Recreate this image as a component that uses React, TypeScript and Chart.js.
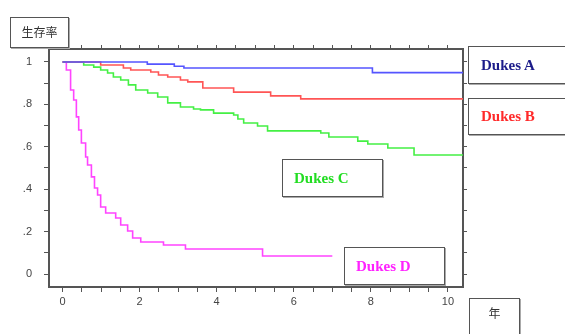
import React, { useEffect, useRef } from "react";
import { Chart, registerables } from "chart.js";

Chart.register(...registerables);

// Kaplan–Meier style survival curves (years vs survival rate)
const dukesATimes = [0, 2.2, 2.9, 3.15, 8.04, 10.39];
const dukesAValues = [1, 0.99, 0.98, 0.972, 0.95, 0.95];

const dukesBTimes = [0, 0.99, 1.58, 1.77, 2.29, 2.49, 2.73, 3.06, 3.25, 3.64, 4.44, 5.4, 6.18, 10.39];
const dukesBValues = [1, 0.986, 0.972, 0.962, 0.953, 0.939, 0.929, 0.915, 0.906, 0.877, 0.858, 0.84, 0.826, 0.826];

const dukesCTimes = [0, 0.55, 0.81, 0.99, 1.17, 1.32, 1.51, 1.71, 1.9, 2.21, 2.47, 2.73, 3.06, 3.4, 3.58, 3.92, 4.44, 4.55, 4.7, 5.06, 5.32, 6.7, 6.91, 7.66, 7.92, 8.44, 9.12, 10.39];
const dukesCValues = [1, 0.986, 0.976, 0.962, 0.948, 0.929, 0.915, 0.892, 0.868, 0.854, 0.835, 0.807, 0.788, 0.778, 0.774, 0.759, 0.75, 0.731, 0.712, 0.698, 0.675, 0.665, 0.646, 0.627, 0.613, 0.594, 0.561, 0.561];

const dukesDTimes = [0, 0.1, 0.21, 0.29, 0.36, 0.42, 0.49, 0.6, 0.65, 0.75, 0.83, 0.91, 0.99, 1.12, 1.38, 1.51, 1.69, 1.82, 2.03, 2.62, 3.19, 5.19, 7.0];
const dukesDValues = [1, 0.962, 0.868, 0.821, 0.741, 0.679, 0.618, 0.552, 0.514, 0.458, 0.406, 0.373, 0.316, 0.288, 0.264, 0.231, 0.203, 0.17, 0.151, 0.137, 0.118, 0.085, 0.085];

const xTickLabels = [0, 2, 4, 6, 8, 10];
const yTickLabels: Record<string, string> = { "0": "0", "0.2": ".2", "0.4": ".4", "0.6": ".6", "0.8": ".8", "1": "1" };

const seriesNames = ["Dukes A", "Dukes B", "Dukes C", "Dukes D"];
const lineColors = ["#5555ff", "#ff5555", "#44f044", "#ff44ff"];
const textColors = ["#1c1c8a", "#ff2a2a", "#22dd22", "#ff22ff"];

const yAxisTitle = "生存率";
const xAxisTitle = "年";

const toPoints = (xs: number[], ys: number[]) => xs.map((x, i) => ({ x, y: ys[i] }));

const boxStyle = (left: number, top: number, width: number, height: number): React.CSSProperties => ({
  position: "absolute",
  left,
  top,
  width,
  height,
  boxSizing: "border-box",
  border: "1.5px solid #555",
  boxShadow: "1px 1px 0 #aaa",
  background: "#fff",
  display: "flex",
  alignItems: "center",
});

export default function App() {
  const ref = useRef<HTMLCanvasElement | null>(null);

  useEffect(() => {
    if (!ref.current) return;
    const xMin = -0.35;
    const xMax = 10.39;
    const yMin = -0.0613;
    const yMax = 1.0613;
    const fmtY = (v: number) => {
      const k = String(Math.round(v * 10) / 10);
      return yTickLabels[k] ?? "";
    };
    const fmtX = (v: number) => (xTickLabels.includes(Math.round(v * 100) / 100) ? String(v) : "");
    const tickFont = { family: "'Liberation Sans', Arial, sans-serif", size: 11 };
    const ds = [
      [dukesATimes, dukesAValues],
      [dukesBTimes, dukesBValues],
      [dukesCTimes, dukesCValues],
      [dukesDTimes, dukesDValues],
    ].map(([xs, ys], i) => ({
      label: seriesNames[i],
      data: toPoints(xs, ys),
      borderColor: lineColors[i],
      borderWidth: 1.6,
      pointRadius: 0,
      stepped: "before" as const,
      fill: false,
      xAxisID: "x",
      yAxisID: "y",
    }));

    const chart = new Chart(ref.current, {
      type: "line",
      data: { datasets: ds },
      options: {
        animation: false,
        responsive: false,
        layout: { padding: 0 },
        plugins: { legend: { display: false }, tooltip: { enabled: false } },
        scales: {
          x: {
            type: "linear",
            position: "bottom",
            min: xMin,
            max: xMax,
            afterFit: (s: any) => { s.height = 47; },
            ticks: { stepSize: 0.5, includeBounds: false, autoSkip: false, maxRotation: 0, padding: 3, color: "#444", font: tickFont, callback: (v: any) => fmtX(Number(v)) },
            grid: { drawOnChartArea: false, drawTicks: true, tickLength: 5, color: "#555", lineWidth: 1 },
            border: { display: true, color: "#555", width: 2 },
          },
          x2: {
            type: "linear",
            position: "top",
            min: xMin,
            max: xMax,
            afterFit: (s: any) => { s.height = 49; },
            ticks: { stepSize: 0.5, includeBounds: false, autoSkip: false, callback: () => "" },
            grid: { drawOnChartArea: false, drawTicks: true, tickLength: 4, color: "#555", lineWidth: 1 },
            border: { display: true, color: "#555", width: 2 },
          },
          y: {
            type: "linear",
            position: "left",
            min: yMin,
            max: yMax,
            afterFit: (s: any) => { s.width = 49; },
            ticks: { stepSize: 0.1, includeBounds: false, autoSkip: false, padding: 12, color: "#444", font: tickFont, callback: (v: any) => fmtY(Number(v)) },
            grid: { drawOnChartArea: false, drawTicks: true, tickLength: 5, color: "#555", lineWidth: 1 },
            border: { display: true, color: "#555", width: 2 },
          },
          y2: {
            type: "linear",
            position: "right",
            min: yMin,
            max: yMax,
            afterFit: (s: any) => { s.width = 102; },
            ticks: { stepSize: 0.1, includeBounds: false, autoSkip: false, callback: () => "" },
            grid: { drawOnChartArea: false, drawTicks: true, tickLength: 4, color: "#555", lineWidth: 1 },
            border: { display: true, color: "#555", width: 2 },
          },
        },
      },
    });
    return () => chart.destroy();
  }, []);

  const labelFont: React.CSSProperties = {
    fontFamily: "'Liberation Serif', 'Times New Roman', serif",
    fontWeight: "bold",
    fontSize: 15,
    whiteSpace: "nowrap",
  };

  return (
    <div style={{ position: "fixed", left: 0, top: 0, width: 565, height: 334, background: "#fff", overflow: "hidden" }}>
      <canvas ref={ref} width={565} height={334} style={{ position: "absolute", left: 0, top: 0 }} />
      <div style={{ ...boxStyle(10, 17, 59, 31), justifyContent: "center" }}>
        <span style={{ fontFamily: "'Noto Sans CJK JP', sans-serif", fontSize: 12, color: "#333", marginTop: -3 }}>{yAxisTitle}</span>
      </div>
      <div style={{ ...boxStyle(469, 298, 51, 50), justifyContent: "center", alignItems: "flex-start", paddingTop: 5 }}>
        <span style={{ fontFamily: "'Noto Sans CJK JP', sans-serif", fontSize: 12, color: "#333" }}>{xAxisTitle}</span>
      </div>
      <div style={{ ...boxStyle(468, 46, 110, 38), paddingLeft: 12 }}>
        <span style={{ ...labelFont, color: textColors[0] }}>{seriesNames[0]}</span>
      </div>
      <div style={{ ...boxStyle(468, 98, 110, 37), paddingLeft: 12 }}>
        <span style={{ ...labelFont, color: textColors[1] }}>{seriesNames[1]}</span>
      </div>
      <div style={{ ...boxStyle(282, 159, 101, 38), paddingLeft: 11 }}>
        <span style={{ ...labelFont, color: textColors[2] }}>{seriesNames[2]}</span>
      </div>
      <div style={{ ...boxStyle(344, 247, 101, 38), paddingLeft: 11 }}>
        <span style={{ ...labelFont, color: textColors[3] }}>{seriesNames[3]}</span>
      </div>
    </div>
  );
}
